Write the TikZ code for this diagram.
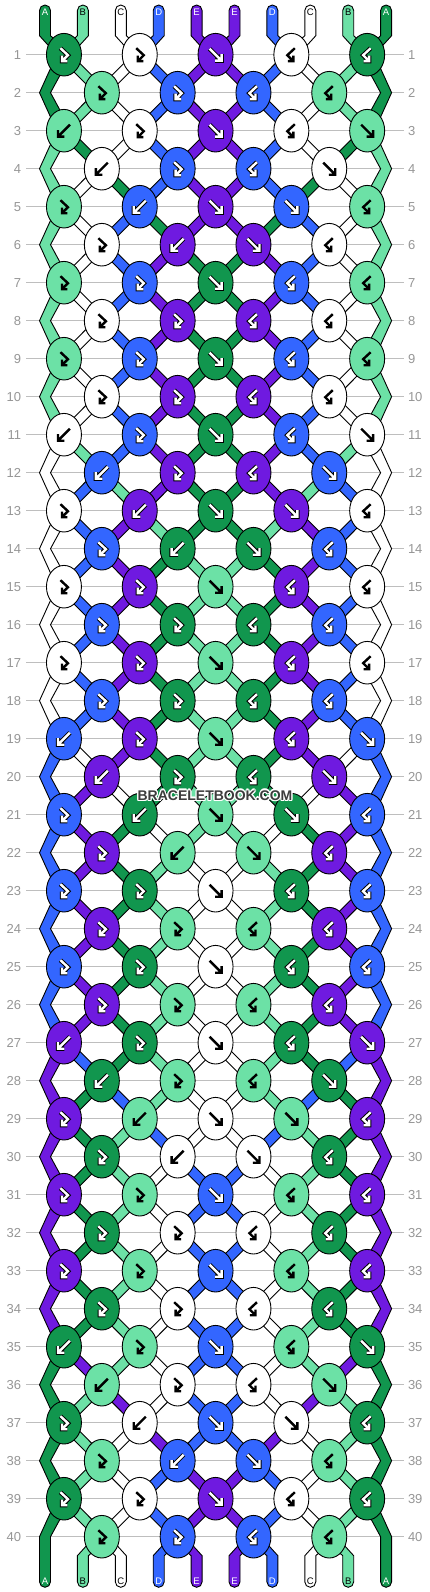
\documentclass[tikz,border=0pt]{standalone}
\usepackage{fontspec}
\setmainfont{Liberation Sans}
\definecolor{cG}{RGB}{17,150,78}
\definecolor{cL}{RGB}{108,225,166}
\definecolor{cW}{RGB}{255,255,255}
\definecolor{cU}{RGB}{51,102,255}
\definecolor{cP}{RGB}{111,26,224}
\definecolor{gridc}{RGB}{190,190,190}
\definecolor{lblc}{RGB}{150,150,150}
\definecolor{wmc}{RGB}{60,60,60}
\tikzset{
 aoG/.style={draw=black,line width=4.4},
 aoU/.style={draw=black,line width=4.4},
 aoP/.style={draw=black,line width=4.4},
 aoL/.style={draw=none},
 aoW/.style={draw=none},
 amG/.style={draw=white,line width=2.4},
 amU/.style={draw=white,line width=2.4},
 amP/.style={draw=white,line width=2.4},
 amL/.style={draw=black,line width=2.4},
 amW/.style={draw=black,line width=2.4},
 glyphline/.style={line join=miter,line cap=butt},
 strand/.style={draw=black,line width=0.9,line join=miter},
 knotshape/.style={draw=black,line width=0.9},
 rowlbl/.style={text=lblc,inner sep=0,font=\fontsize{13}{13}\selectfont},
 toplbl/.style={inner sep=0,font=\fontsize{9.5}{9.5}\selectfont},
 wm/.style={inner sep=0,font=\fontsize{14}{14}\selectfont\bfseries},
}
\def\glF{(-6,-6) -- (5.2,5.2) (-0.5,6) -- (6,6) -- (6,-0.5)}
\def\glB{(6,-6) -- (-5.2,5.2) (0.5,6) -- (-6,6) -- (-6,-0.5)}
\def\glFB{(-3.5,-6.5) -- (4,0.5) -- (-1.6,6.1) (3.5,6.5) -- (-2,6.5) -- (-2,1)}
\def\glBF{(3.5,-6.5) -- (-4,0.5) -- (1.6,6.1) (-3.5,6.5) -- (2,6.5) -- (2,1)}
\def\mirF{B}\def\mirB{F}\def\mirFB{BF}\def\mirBF{FB}
\newcommand\drawknot[4]{%
 \filldraw[knotshape,fill=c#3] (#1,#2) ellipse[x radius=17.5,y radius=21.3];
 \expandafter\let\expandafter\gpath\csname gl#4\endcsname
 \draw[glyphline,ao#3,shift={(#1,#2)}] \gpath;
 \draw[glyphline,am#3,shift={(#1,#2)}] \gpath;
}
\newcommand\thread[2]{%
 \foreach \ps [count=\rw from 0, remember=\ps as \pp (initially 0)] in {#2} {%
  \ifnum\rw=0
   \pgfmathsetmacro\xa{45+37.9*\ps-5.5}%
   \pgfmathsetmacro\xb{45+37.9*\ps+5.5}%
   \xdef\Lp{(\xa,10.5) -- (\xa,35.7)}%
   \xdef\Rp{-- (\xb,35.7) -- (\xb,10.5) arc[start angle=0,end angle=-180,radius=5.5] -- cycle}%
  \else
   \pgfmathsetmacro\xc{mod(\rw,2)==1 ? 45+37.9*(2*floor(\pp/2)+0.5) : (\pp==0 ? 45 : 45+37.9*(2*floor((\pp-1)/2)+1.5))}%
   \pgfmathsetmacro\hh{mod(\rw,2)==0 ? (\pp==0 ? 5.5 : 7.2) : 7.2}%
   \pgfmathsetmacro\xa{\xc-\hh}%
   \pgfmathsetmacro\xb{\xc+\hh}%
   \pgfmathsetmacro\yy{54.7+(\rw-1)*38}%
   \xdef\Lp{\Lp -- (\xa,\yy)}%
   \xdef\Rp{-- (\xb,\yy) \Rp}%
   \ifnum\rw=40
    \pgfmathsetmacro\xa{45+37.9*\ps-5.5}%
    \pgfmathsetmacro\xb{45+37.9*\ps+5.5}%
    \xdef\Lp{\Lp -- (\xa,1555.7) -- (\xa,1581.8) arc[start angle=180,end angle=0,radius=5.5] -- (\xb,1555.7)}%
   \fi
  \fi
 }%
 \filldraw[strand,fill=#1] \Lp \Rp;
}
\newcommand\allthreads{%
 \thread{cG}{0,0,0,1,2,3,4,4,4,4,4,4,4,4,3,3,3,3,3,3,3,2,2,2,2,2,2,2,1,1,1,1,1,1,1,0,0,0,0,0,0}
 \thread{cL}{1,1,1,0,0,0,0,0,0,0,0,1,2,3,4,4,4,4,4,4,4,4,3,3,3,3,3,3,3,2,2,2,2,2,2,2,1,1,1,1,1}
 \thread{cW}{2,2,2,2,1,1,1,1,1,1,1,0,0,0,0,0,0,0,0,1,2,3,4,4,4,4,4,4,4,4,3,3,3,3,3,3,3,2,2,2,2}
 \thread{cU}{3,3,3,3,3,2,2,2,2,2,2,2,1,1,1,1,1,1,1,0,0,0,0,0,0,0,0,1,2,3,4,4,4,4,4,4,4,4,3,3,3}
 \thread{cP}{4,4,4,4,4,4,3,3,3,3,3,3,3,2,2,2,2,2,2,2,1,1,1,1,1,1,1,0,0,0,0,0,0,0,0,1,2,3,4,4,4}
}
\begin{document}
\begin{tikzpicture}[x=1pt,y=-1pt]
\useasboundingbox (0,0) rectangle (430,1592);
\fill[white] (0,0) rectangle (430,1592);
% grid lines and row numbers
\foreach \rr in {1,...,40} {
 \draw[gridc,line width=1.2] (26,{54.7+(\rr-1)*38}) -- (403.5,{54.7+(\rr-1)*38});
 \node[rowlbl,anchor=east] (l\rr) at (21.2,{54.7+(\rr-1)*38}) {\rr};
 \node[rowlbl,anchor=west] (r\rr) at (407.8,{54.7+(\rr-1)*38}) {\rr};
}
% threads
\allthreads
\begin{scope}[xshift=431.1pt,xscale=-1]
\allthreads
\end{scope}
% string letters
\foreach \lt/\tc [count=\i from 0] in {A/white,B/black,C/black,D/white,E/white,E/white,D/white,C/black,B/black,A/white} {
 \node[toplbl,text=\tc] (t\i) at ({45+37.9*\i},12.3) {\lt};
 \node[toplbl,text=\tc] (b\i) at ({45+37.9*\i},1581.5) {\lt};
}
% knots (left half, mirrored to right half)
\foreach \rr/\kk/\kc/\kt in {
1/0/G/FB, 1/1/W/FB, 2/0/L/FB, 2/1/U/FB, 3/0/L/B, 3/1/W/FB, 4/0/W/B, 4/1/U/FB,
5/0/L/FB, 5/1/U/B, 6/0/W/FB, 6/1/P/B, 7/0/L/FB, 7/1/U/FB, 8/0/W/FB, 8/1/P/FB,
9/0/L/FB, 9/1/U/FB, 10/0/W/FB, 10/1/P/FB, 11/0/W/B, 11/1/U/FB, 12/0/U/B, 12/1/P/FB,
13/0/W/FB, 13/1/P/B, 14/0/U/FB, 14/1/G/B, 15/0/W/FB, 15/1/P/FB, 16/0/U/FB, 16/1/G/FB,
17/0/W/FB, 17/1/P/FB, 18/0/U/FB, 18/1/G/FB, 19/0/U/B, 19/1/P/FB, 20/0/P/B, 20/1/G/FB,
21/0/U/FB, 21/1/G/B, 22/0/P/FB, 22/1/L/B, 23/0/U/FB, 23/1/G/FB, 24/0/P/FB, 24/1/L/FB,
25/0/U/FB, 25/1/G/FB, 26/0/P/FB, 26/1/L/FB, 27/0/P/B, 27/1/G/FB, 28/0/G/B, 28/1/L/FB,
29/0/P/FB, 29/1/L/B, 30/0/G/FB, 30/1/W/B, 31/0/P/FB, 31/1/L/FB, 32/0/G/FB, 32/1/W/FB,
33/0/P/FB, 33/1/L/FB, 34/0/G/FB, 34/1/W/FB, 35/0/G/B, 35/1/L/FB, 36/0/L/B, 36/1/W/FB,
37/0/G/FB, 37/1/W/B, 38/0/L/FB, 38/1/U/B, 39/0/G/FB, 39/1/W/FB, 40/0/L/FB, 40/1/U/FB} {
 \pgfmathsetmacro\kx{45+37.9*(2*\kk+(mod(\rr,2)==1 ? 0.5 : 1.5))}
 \pgfmathsetmacro\ky{54.7+(\rr-1)*38}
 \pgfmathsetmacro\mx{431.1-\kx}
 \edef\tmp{\noexpand\drawknot{\kx}{\ky}{\kc}{\kt}\noexpand\drawknot{\mx}{\ky}{\kc}{\csname mir\kt\endcsname}}\tmp
}
% centre knots
\foreach \rr/\kc in {1/P,3/P,5/P,7/G,9/G,11/G,13/G,15/L,17/L,19/L,21/L,23/W,25/W,27/W,29/W,31/U,33/U,35/U,37/U,39/P} {
 \pgfmathsetmacro\ky{54.7+(\rr-1)*38}
 \edef\tmp{\noexpand\drawknot{215.55}{\ky}{\kc}{F}}\tmp
}
% watermark
\foreach \dx/\dy [count=\j] in {-1.2/0,1.2/0,0/-1.2,0/1.2,-0.9/-0.9,0.9/0.9,-0.9/0.9,0.9/-0.9} {
 \node[wm,text=white] (halo\j) at (215+\dx,795.3+\dy) {BRACELETBOOK.COM};
}
\node[wm,text=wmc] (wmark) at (215,795.3) {BRACELETBOOK.COM};
\end{tikzpicture}
\end{document}
